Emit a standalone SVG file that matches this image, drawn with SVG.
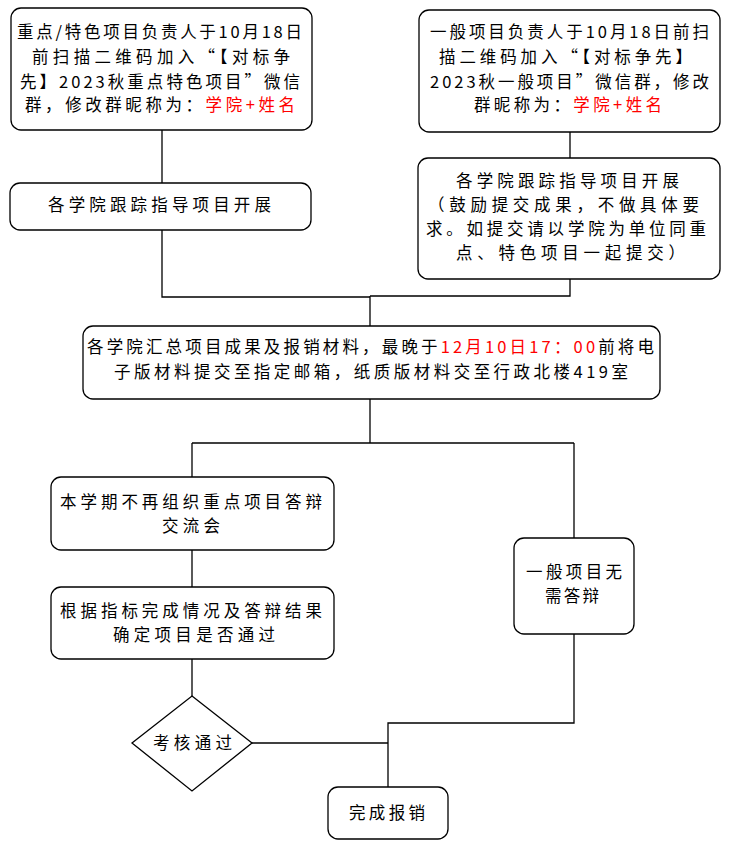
<svg xmlns="http://www.w3.org/2000/svg" width="734" height="846" viewBox="0 0 734 846">
<style>
.box{fill:#fff;stroke:#000;stroke-width:1.3}
.t{font-family:"Noto Sans CJK SC","Noto Sans",sans-serif;font-size:16.5px;fill:#000}
.r{fill:#ff0000}
.c{fill:none;stroke:#000;stroke-width:1.3}
</style>
<rect width="734" height="846" fill="#fff"/>
<g id="connectors">
<path class="c" d="M162,130 V183"/>
<path class="c" d="M570,132 V158"/>
<path class="c" d="M162,230 V297 H370"/>
<path class="c" d="M570,279 V296 H370"/>
<path class="c" d="M370,296 V326"/>
<path class="c" d="M370,399 V443"/>
<path class="c" d="M192,443 H574"/>
<path class="c" d="M192,443 V477"/>
<path class="c" d="M574,443 V538"/>
<path class="c" d="M192,550 V587"/>
<path class="c" d="M192,659 V696"/>
<path class="c" d="M252,743 H388"/>
<path class="c" d="M574,634 V723 H388 V787"/>
</g>
<g id="n1">
<rect class="box" x="11" y="8" width="301" height="122" rx="10"/>
<text class="t" x="17" y="38" textLength="285" lengthAdjust="spacing">重点/特色项目负责人于10月18日</text>
<text class="t" x="32" y="63" textLength="258" lengthAdjust="spacing">前扫描二维码加入“【对标争</text>
<text class="t" x="20" y="88" textLength="280" lengthAdjust="spacing">先】2023秋重点特色项目”微信</text>
<text class="t" x="25" y="111" textLength="270" lengthAdjust="spacing">群，修改群昵称为：<tspan class="r">学院+姓名</tspan></text>
</g>
<g id="n2">
<rect class="box" x="419" y="10" width="301" height="122" rx="10"/>
<text class="t" x="430" y="38" textLength="279" lengthAdjust="spacing">一般项目负责人于10月18日前扫</text>
<text class="t" x="439" y="63" textLength="253" lengthAdjust="spacing">描二维码加入“【对标争先】</text>
<text class="t" x="430" y="88" textLength="279" lengthAdjust="spacing">2023秋一般项目”微信群，修改</text>
<text class="t" x="474" y="111" textLength="188" lengthAdjust="spacing">群昵称为：<tspan class="r">学院+姓名</tspan></text>
</g>
<g id="n3">
<rect class="box" x="10" y="183" width="301" height="47" rx="10"/>
<text class="t" x="48" y="211" textLength="223" lengthAdjust="spacing">各学院跟踪指导项目开展</text>
</g>
<g id="n4">
<rect class="box" x="418" y="158" width="302" height="121" rx="10"/>
<text class="t" x="456" y="187" textLength="223" lengthAdjust="spacing">各学院跟踪指导项目开展</text>
<text class="t" x="428" y="211" textLength="271" lengthAdjust="spacing">（鼓励提交成果，不做具体要</text>
<text class="t" x="426" y="235" textLength="280" lengthAdjust="spacing">求。如提交请以学院为单位同重</text>
<text class="t" x="456" y="259" textLength="229" lengthAdjust="spacing">点、特色项目一起提交）</text>
</g>
<g id="n5">
<rect class="box" x="83" y="326" width="577" height="73" rx="10"/>
<text class="t" x="87" y="353" textLength="567" lengthAdjust="spacing">各学院汇总项目成果及报销材料，最晚于<tspan class="r">12月10日17：00</tspan>前将电</text>
<text class="t" x="114" y="378" textLength="514" lengthAdjust="spacing">子版材料提交至指定邮箱，纸质版材料交至行政北楼419室</text>
</g>
<g id="n6">
<rect class="box" x="51" y="477" width="283" height="73" rx="10"/>
<text class="t" x="60" y="508" textLength="262" lengthAdjust="spacing">本学期不再组织重点项目答辩</text>
<text class="t" x="162" y="532" textLength="58" lengthAdjust="spacing">交流会</text>
</g>
<g id="n7">
<rect class="box" x="51" y="587" width="283" height="72" rx="10"/>
<text class="t" x="60" y="617" textLength="262" lengthAdjust="spacing">根据指标完成情况及答辩结果</text>
<text class="t" x="113" y="641" textLength="162" lengthAdjust="spacing">确定项目是否通过</text>
</g>
<g id="n8">
<rect class="box" x="514" y="538" width="120" height="96" rx="10"/>
<text class="t" x="526" y="578" textLength="96" lengthAdjust="spacing">一般项目无</text>
<text class="t" x="545" y="602" textLength="54" lengthAdjust="spacing">需答辩</text>
</g>
<g id="n9">
<polygon class="box" points="192,696 252,743 192,791 132,743"/>
<text class="t" x="153" y="749" textLength="79" lengthAdjust="spacing">考核通过</text>
</g>
<g id="n10">
<rect class="box" x="328" y="787" width="120" height="52" rx="10"/>
<text class="t" x="349" y="819" textLength="76" lengthAdjust="spacing">完成报销</text>
</g>
</svg>
